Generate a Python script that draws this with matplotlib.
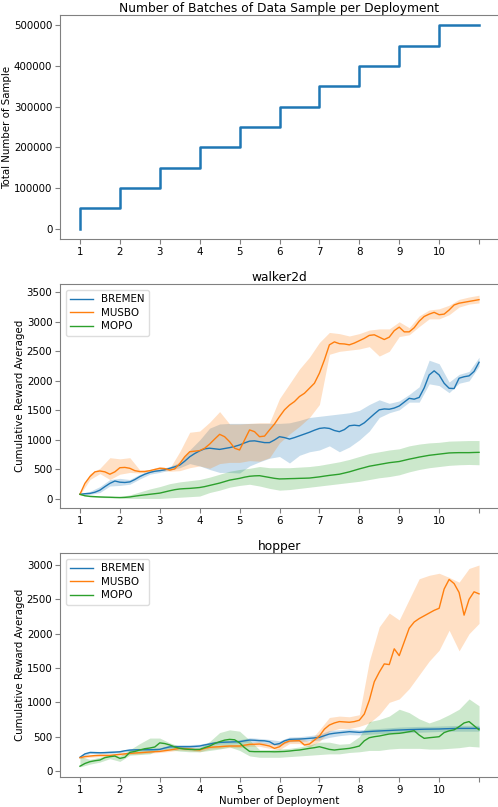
import numpy as np
import matplotlib
matplotlib.use("Agg")
import matplotlib.pyplot as plt

plt.rcParams["font.family"] = ["DejaVu Sans"]

# ---------------- data ----------------
deployments = [1, 2, 3, 4, 5, 6, 7, 8, 9, 10, 11]
x_tick_labels = ["1", "2", "3", "4", "5", "6", "7", "8", "9", "10", ""]
samples_per_deployment = [50000] * 10

methods = ["BREMEN", "MUSBO", "MOPO"]
colors = ["#1f77b4", "#ff7f0e", "#2ca02c"]

# sample positions (number of deployment) for mean curves and for the std bands
x_mean = np.linspace(1, 11, 81)
x_band = np.linspace(1, 11, 41)

# ---- walker2d ----
walker_bremen = [80, 90, 95, 115, 150, 210, 265, 305, 285, 280, 290, 330, 380, 420, 450, 470,
                 480, 495, 520, 545, 575, 640, 715, 770, 815, 850, 860, 850, 840, 855, 870, 890,
                 915, 950, 980, 985, 970, 955, 955, 1000, 1055, 1040, 1015, 1040, 1070, 1100, 1130, 1165,
                 1195, 1205, 1195, 1160, 1140, 1175, 1240, 1250, 1240, 1290, 1365, 1440, 1510, 1525, 1520, 1540,
                 1575, 1640, 1705, 1690, 1720, 1880, 2100, 2170, 2100, 1960, 1875, 1870, 2045, 2070, 2085, 2160,
                 2315]
walker_musbo = [80, 265, 380, 460, 475, 460, 420, 460, 530, 535, 520, 480, 465, 465, 480, 500,
                520, 515, 490, 510, 600, 715, 800, 810, 820, 860, 930, 1015, 1095, 1055, 970, 860,
                830, 1000, 1170, 1140, 1055, 1065, 1170, 1270, 1395, 1510, 1590, 1650, 1735, 1790, 1875, 1960,
                2130, 2355, 2610, 2660, 2630, 2625, 2610, 2640, 2680, 2720, 2770, 2780, 2740, 2700, 2740, 2850,
                2910, 2830, 2830, 2900, 3010, 3090, 3130, 3160, 3120, 3130, 3200, 3285, 3315, 3330, 3345, 3360,
                3375]
walker_mopo = [80, 55, 45, 40, 35, 32, 30, 27, 25, 28, 35, 48, 60, 70, 80, 90,
               100, 120, 140, 158, 170, 176, 180, 187, 195, 210, 230, 250, 270, 295, 320, 335,
               350, 370, 385, 392, 395, 380, 365, 350, 340, 342, 345, 347, 350, 352, 355, 365,
               375, 388, 400, 410, 420, 440, 460, 485, 510, 532, 555, 570, 585, 600, 615, 625,
               635, 655, 675, 692, 710, 725, 740, 750, 760, 770, 780, 783, 785, 785, 785, 788,
               790]

walker_bremen_lo = [70, 80, 110, 220, 230, 250, 340, 420, 450, 490, 530, 600, 560, 500, 450, 450,
                    440, 560, 630, 690, 720, 610, 740, 800, 830, 900, 800, 880, 1000, 1150, 1380, 1460,
                    1510, 1640, 1640, 1950, 1920, 1800, 1960, 2000, 2250]
walker_bremen_hi = [90, 130, 210, 330, 350, 330, 420, 480, 510, 550, 620, 830, 1000, 1200, 1270, 1280,
                    1280, 1280, 1280, 1280, 1280, 1290, 1330, 1380, 1400, 1420, 1440, 1460, 1500, 1600, 1680, 1620,
                    1660, 1770, 1900, 2350, 2290, 1980, 2110, 2160, 2400]
walker_musbo_lo = [70, 330, 430, 330, 420, 450, 440, 460, 490, 470, 480, 530, 560, 520, 600, 620,
                   620, 650, 640, 700, 950, 1100, 1230, 1380, 1600, 2450, 2500, 2520, 2540, 2580, 2420, 2500,
                   2750, 2780, 2920, 3050, 3050, 3120, 3250, 3300, 3320]
walker_musbo_hi = [90, 430, 520, 700, 680, 700, 490, 500, 550, 520, 800, 1130, 1150, 1300, 1480, 1270,
                   1270, 1280, 1290, 1290, 1700, 1950, 2200, 2400, 2650, 2820, 2800, 2760, 2800, 2860, 2880, 2880,
                   3000, 2900, 3100, 3200, 3220, 3280, 3380, 3420, 3450]
walker_mopo_lo = [70, 35, 25, 20, 15, 10, 10, 10, 10, 20, 30, 40, 50, 110, 150, 200,
                  230, 250, 220, 180, 150, 160, 180, 200, 220, 240, 260, 280, 300, 330, 360, 380,
                  410, 460, 500, 530, 550, 570, 580, 585, 580]
walker_mopo_hi = [90, 60, 50, 45, 40, 70, 120, 170, 210, 260, 290, 310, 330, 370, 420, 470,
                  500, 520, 550, 530, 530, 530, 540, 550, 570, 600, 630, 670, 720, 770, 800, 830,
                  850, 900, 930, 950, 960, 980, 985, 990, 990]

# ---- hopper ----
hopper_bremen = [200, 250, 270, 268, 266, 268, 272, 275, 280, 295, 305, 308, 310, 310, 310, 312,
                 315, 335, 352, 354, 354, 354, 354, 358, 364, 380, 393, 408, 417, 420, 422, 425,
                 427, 440, 451, 448, 442, 440, 427, 385, 400, 440, 461, 464, 466, 470, 476, 482,
                 490, 515, 539, 550, 558, 565, 573, 568, 563, 570, 575, 580, 583, 587, 590, 594,
                 597, 600, 603, 605, 607, 609, 610, 611, 612, 615, 617, 619, 621, 621, 621, 621,
                 621]
hopper_musbo = [194, 210, 218, 225, 228, 228, 228, 235, 243, 250, 257, 262, 267, 272, 277, 282,
                286, 296, 306, 318, 330, 325, 320, 312, 306, 330, 345, 350, 354, 360, 364, 364,
                364, 376, 388, 390, 393, 380, 364, 330, 354, 410, 437, 440, 442, 379, 393, 450,
                510, 610, 670, 700, 720, 715, 710, 720, 740, 830, 1030, 1300, 1440, 1560, 1550, 1780,
                1680, 1880, 2080, 2170, 2220, 2260, 2300, 2340, 2370, 2650, 2790, 2730, 2600, 2270, 2500, 2610,
                2580]
hopper_mopo = [70, 110, 136, 150, 160, 195, 209, 218, 184, 200, 272, 285, 306, 325, 335, 350,
               410, 400, 380, 350, 330, 320, 315, 312, 315, 340, 364, 400, 427, 450, 461, 455,
               410, 340, 286, 282, 282, 282, 282, 280, 282, 285, 291, 300, 306, 318, 330, 340,
               354, 335, 315, 306, 315, 322, 330, 345, 364, 440, 485, 500, 510, 525, 539, 545,
               549, 560, 573, 587, 524, 476, 485, 492, 500, 560, 585, 600, 646, 700, 720, 660,
               600]

hopper_bremen_lo = [190, 255, 250, 255, 265, 290, 290, 290, 295, 330, 330, 330, 340, 370, 390, 395,
                    400, 420, 410, 395, 370, 425, 430, 440, 450, 490, 515, 530, 525, 535, 545, 550,
                    555, 560, 565, 570, 575, 580, 580, 580, 580]
hopper_bremen_hi = [220, 290, 285, 290, 300, 325, 330, 330, 335, 380, 385, 385, 390, 420, 445, 450,
                    455, 485, 475, 460, 440, 495, 500, 515, 535, 590, 600, 615, 600, 610, 620, 630,
                    640, 645, 650, 650, 655, 660, 665, 665, 665]
hopper_musbo_lo = [180, 200, 210, 210, 225, 240, 250, 260, 270, 285, 305, 295, 280, 320, 330, 340,
                   340, 360, 360, 330, 310, 400, 400, 350, 430, 580, 620, 620, 650, 700, 820, 1000,
                   1050, 1200, 1400, 1600, 1760, 2050, 1750, 2000, 2150]
hopper_musbo_hi = [210, 235, 245, 245, 260, 275, 285, 295, 305, 325, 350, 345, 330, 370, 380, 390,
                   390, 415, 425, 400, 400, 470, 480, 430, 600, 780, 800, 790, 820, 1600, 2100, 2300,
                   2200, 2500, 2800, 2850, 2880, 2820, 2750, 2950, 3000]
hopper_mopo_lo = [60, 100, 130, 180, 140, 230, 240, 250, 320, 310, 290, 280, 280, 300, 320, 350,
                  300, 220, 200, 200, 200, 210, 220, 230, 240, 250, 250, 270, 280, 300, 300, 320,
                  330, 330, 330, 320, 320, 330, 340, 360, 350]
hopper_mopo_hi = [210, 170, 200, 240, 220, 310, 400, 480, 480, 410, 360, 340, 340, 430, 560, 600,
                  580, 450, 310, 310, 320, 330, 350, 380, 420, 420, 390, 400, 500, 720, 750, 800,
                  900, 850, 760, 700, 750, 820, 900, 1050, 950]

walker = {
    "mean": [walker_bremen, walker_musbo, walker_mopo],
    "lo": [walker_bremen_lo, walker_musbo_lo, walker_mopo_lo],
    "hi": [walker_bremen_hi, walker_musbo_hi, walker_mopo_hi],
}
hopper = {
    "mean": [hopper_bremen, hopper_musbo, hopper_mopo],
    "lo": [hopper_bremen_lo, hopper_musbo_lo, hopper_mopo_lo],
    "hi": [hopper_bremen_hi, hopper_musbo_hi, hopper_mopo_hi],
}

# ---------------- figure ----------------
W, H = 498, 807
fig = plt.figure(figsize=(W / 100, H / 100), dpi=100)

def box(top_px, bottom_px, left_px=60, right_px=499):
    return [left_px / W, 1 - bottom_px / H, (right_px - left_px) / W, (bottom_px - top_px) / H]

FS = 7.4
TITLE_FS = 8.8
SPINE = "#808080"

def style(ax):
    for s in ax.spines.values():
        s.set_color(SPINE)
    ax.tick_params(labelsize=FS, color=SPINE, length=3.5, pad=2)
    ax.set_xticks(deployments)
    ax.set_xticklabels(x_tick_labels)
    ax.set_xlim(0.5, 11.5)

# top: cumulative samples
ax0 = fig.add_axes(box(15, 239))
cum = np.concatenate([[0], np.cumsum(samples_per_deployment)])
ax0.step([1] + deployments, list(cum) + [cum[-1]], where="post", color=colors[0], lw=1.8)
style(ax0)
ax0.set_ylim(-25000, 525000)
ax0.set_yticks([0, 100000, 200000, 300000, 400000, 500000])
ax0.set_ylabel("Total Number of Sample", fontsize=FS, labelpad=1.5)
ax0.set_title("Number of Batches of Data Sample per Deployment", fontsize=TITLE_FS, pad=2)

def perf(ax, data, title, ylim):
    for name, c, m, lo, hi in zip(methods, colors, data["mean"], data["lo"], data["hi"]):
        ax.fill_between(x_band, lo, hi, color=c, alpha=0.24, lw=0)
        ax.plot(x_mean, m, color=c, lw=1.0, label=name)
    style(ax)
    ax.set_ylim(*ylim)
    ax.set_ylabel("Cumulative Reward Averaged", fontsize=FS, labelpad=1.5)
    ax.set_title(title, fontsize=TITLE_FS, pad=2)
    leg = ax.legend(loc="upper left", fontsize=FS, handlelength=2.2, borderpad=0.4,
                    labelspacing=0.35, handletextpad=0.8, borderaxespad=0.6,
                    framealpha=1, fancybox=True)
    leg.get_frame().set_edgecolor("#dddddd")

ax1 = fig.add_axes(box(284, 508))
perf(ax1, walker, "walker2d", (-152, 3640))
ax1.set_yticks([0, 500, 1000, 1500, 2000, 2500, 3000, 3500])

ax2 = fig.add_axes(box(553, 777))
perf(ax2, hopper, "hopper", (-87, 3175))
ax2.set_yticks([0, 500, 1000, 1500, 2000, 2500, 3000])
ax2.set_xlabel("Number of Deployment", fontsize=FS, labelpad=1)

fig.savefig("out.png", dpi=100)
